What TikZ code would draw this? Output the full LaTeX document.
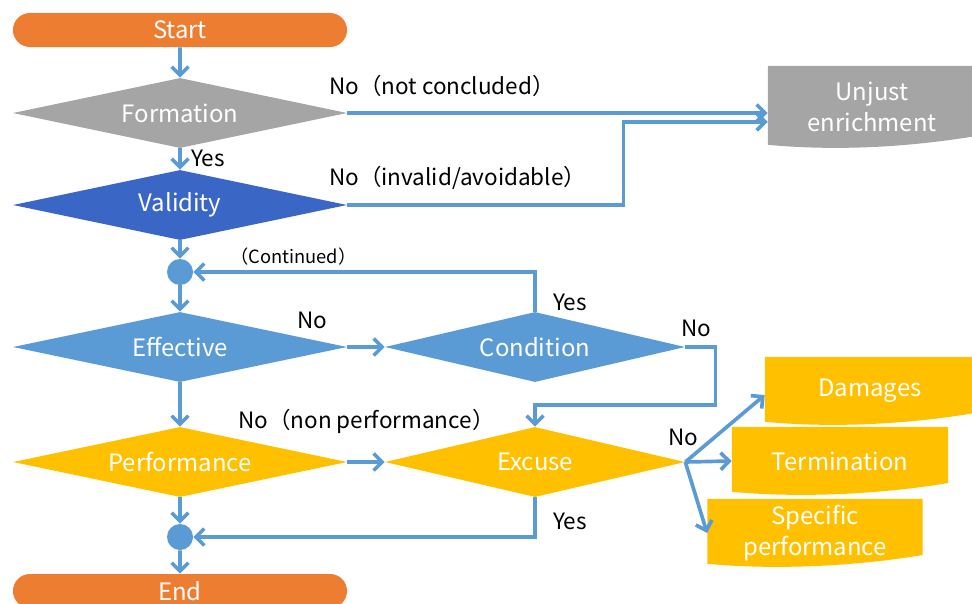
\documentclass[tikz,border=0pt]{standalone}
\usepackage{fontspec}
\setmainfont{Noto Sans CJK JP}
\usetikzlibrary{shapes.geometric,shapes.misc,arrows.meta}

\definecolor{floworange}{HTML}{ED7D31}
\definecolor{flowgray}{HTML}{A5A5A5}
\definecolor{flownavy}{HTML}{3A66C6}
\definecolor{flowblue}{HTML}{5B9BD5}
\definecolor{flowgold}{HTML}{FFC000}

\tikzset{
  terminal/.style={rounded rectangle, fill=floworange, text=white, inner sep=0pt,
                   minimum width=8.35cm, minimum height=0.85cm, font=\fontsize{17}{20}\selectfont},
  decision/.style={diamond, aspect=5, fill=#1, text=white, inner sep=0pt,
                   minimum width=8.35cm, minimum height=1.75cm, font=\fontsize{17}{20}\selectfont},
  joint/.style={circle, fill=flowblue, inner sep=0pt, minimum size=0.65cm},
  outcome/.style={rectangle, draw=none, text=white, align=center, inner sep=0pt,
                  minimum width=5.3cm, minimum height=1.7cm, font=\fontsize{17}{22}\selectfont,
                  path picture={
                    \fill[#1] (path picture bounding box.north west) -- (path picture bounding box.north east)
                      -- ([yshift=0.3cm]path picture bounding box.south east)
                      .. controls +(-1.8cm,-0.3cm) and +(1.6cm,-0.15cm) .. ([yshift=0.08cm]path picture bounding box.south west)
                      -- cycle;}},
  flow/.style={draw=flowblue, line width=2.6pt, -{Straight Barb[length=6pt,width=12pt]}},
  lbl/.style={inner sep=0pt, font=\fontsize{16}{19}\selectfont}
}

\begin{document}
\begin{tikzpicture}[x=0.025cm, y=-0.025cm]
\useasboundingbox (0,0) rectangle (972,604);

% main column
\node[terminal] (start) at (180,30) {Start};
\node[decision=flowgray] (formation) at (180,113) {Formation};
\node[decision=flownavy] (validity) at (180,205) {Validity};
\node[joint] (join1) at (180,272) {};
\node[decision=flowblue] (effective) at (180,347) {Effective};
\node[decision=flowgold] (performance) at (180,462) {Performance};
\node[joint] (join2) at (180,537) {};
\node[terminal] (finish) at (180,591) {End};

% second column
\node[decision=flowblue, minimum width=7.5cm] (condition) at (535,347) {Condition};
\node[decision=flowgold, minimum width=7.5cm] (excuse) at (535,462) {Excuse};

% outcomes
\node[outcome=flowgray, minimum width=5.2cm, minimum height=2.05cm] (unjust) at (872,107) {Unjust\\enrichment};
\node[outcome=flowgold, minimum width=5.25cm] (damages) at (870,391) {Damages};
\node[outcome=flowgold, minimum width=5.4cm] (termination) at (840,461) {Termination};
\node[outcome=flowgold, minimum width=5.38cm] (specific) at (815,533) {Specific\\performance};

% connectors
\draw[flow] (start) -- (formation);
\draw[flow] (formation) -- (validity);
\draw[flow] (formation.east) -- (formation.east -| unjust.west);
\draw[flow] (validity.east) -- ++(276,0) |- ([yshift=-0.37cm]unjust.west);
\draw[flow] (validity) -- (join1);
\draw[flow] (condition.north) |- (join1);
\draw[flow] (join1) -- (effective);
\draw[flow] (effective) -- (condition);
\draw[flow] (condition.east) -- ++(30,0) -- ++(0,58) -| (excuse.north);
\draw[flow] (effective) -- (performance);
\draw[flow] (performance) -- (excuse);
\draw[flow] (excuse.south) |- (join2);
\draw[flow] (performance) -- (join2);
\draw[flow] (join2) -- (finish);
\draw[flow] (excuse.east) -- ([yshift=-0.1cm]damages.west);
\draw[flow] (excuse.east) -- (termination.west);
\draw[flow] (excuse.east) -- (specific.west);

% labels
\node[lbl, anchor=west] at (329,86) {No（not concluded）};
\node[lbl, anchor=west] at (329,178) {No（invalid/avoidable）};
\node[lbl] at (208,158) {Yes};
\node[lbl, anchor=west, font=\fontsize{13}{16}\selectfont] at (230,257) {（Continued）};
\node[lbl] at (570,302) {Yes};
\node[lbl] at (312,320) {No};
\node[lbl] at (696,328) {No};
\node[lbl, anchor=west] at (238,421) {No（non performance）};
\node[lbl] at (683,437) {No};
\node[lbl] at (570,521) {Yes};

\end{tikzpicture}
\end{document}
